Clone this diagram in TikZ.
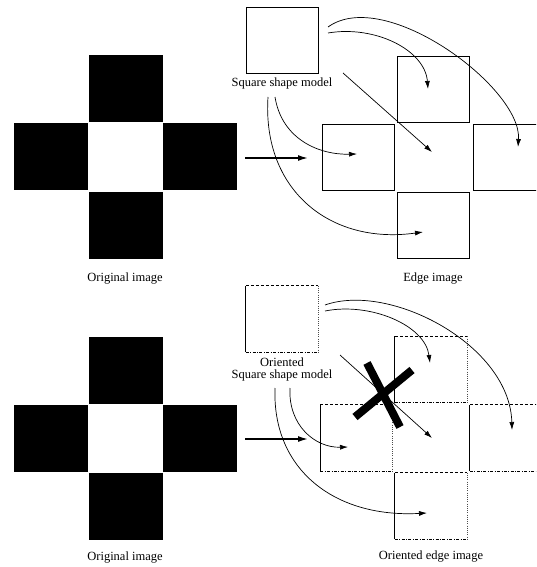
\documentclass[tikz,border=0pt]{standalone}
\usepackage{fontspec}
\setmainfont{Liberation Serif}
\usetikzlibrary{arrows.meta}
\begin{document}
\begin{tikzpicture}[x=1pt,y=-1pt,
  blk/.style={fill=black,draw=none,minimum width=74pt,minimum height=67pt,inner sep=0pt},
  sq/.style={draw=black,line width=0.85pt,minimum width=72pt,minimum height=66pt,inner sep=0pt},
  osq/.style={draw=none,minimum width=72pt,minimum height=66pt,inner sep=0pt},
  lbl/.style={font=\fontsize{12.5}{14}\selectfont,inner sep=0pt,align=center},
  curv/.style={line width=0.7pt,-{Latex[length=8pt,width=5pt]}},
  bigarr/.style={line width=1.5pt,-{Latex[length=10pt,width=6pt]}},
  otop/.style={line width=0.8pt,dash pattern=on 3pt off 2pt},
  oright/.style={line width=0.7pt,dash pattern=on 0.6pt off 1.6pt,draw=black!70},
  obot/.style={line width=0.75pt,dash pattern=on 3pt off 1.5pt on 0.8pt off 1.5pt},
  oleft/.style={line width=0.85pt},
  xbar/.style={line width=8pt}]
\clip (0,0) rectangle (536,567);
\fill[white] (0,0) rectangle (536,567);

% ---------- top half ----------
\node[blk] (ot) at (126,88.5) {};
\node[blk] (ol) at (51,156.5) {};
\node[blk] (or) at (200,156.5) {};
\node[blk] (ob) at (126,225) {};
\node[lbl] (olab) at (125,279) {Original image};

\coordinate (a1) at (245,158);
\coordinate (a2) at (308,158);
\draw[bigarr] (a1) -- (a2);

\node[sq] (m) at (282,40) {};
\node[lbl] (mlab) at (282,83) {Square shape model};

\node[sq] (et) at (433,89) {};
\node[sq] (el) at (358.5,157) {};
\node[sq] (er) at (509,157) {};
\node[sq] (eb) at (433,225) {};
\node[lbl] (elab) at (433,279) {Edge image};

\coordinate (s1) at (328,27);   \coordinate (e1) at (518,147);
\coordinate (s2) at (328,33);   \coordinate (e2) at (428,89);
\coordinate (s3) at (343,73);   \coordinate (e3) at (432,152);
\coordinate (s4) at (275,97);   \coordinate (e4) at (357,154);
\coordinate (s5) at (268,97);   \coordinate (e5) at (423,232);
\draw[curv] (s1) .. controls (385,-14) and (522,88) .. (e1);
\draw[curv] (s2) .. controls (375,25) and (425,50) .. (e2);
\draw[curv] (s3) -- (e3);
\draw[curv] (s4) .. controls (282,140) and (320,155) .. (e4);
\draw[curv] (s5) .. controls (262,190) and (330,245) .. (e5);

% ---------- bottom half ----------
\node[blk] (pt) at (126,370) {};
\node[blk] (pl) at (51,438) {};
\node[blk] (pr) at (200,438) {};
\node[blk] (pb) at (126,506.5) {};
\node[lbl] (plab) at (125,558) {Original image};

\coordinate (b1) at (245,439);
\coordinate (b2) at (308,439);
\draw[bigarr] (b1) -- (b2);

\node[osq] (n) at (282,319) {};
\node[lbl] (nlab) at (282,369.5) {Oriented\\[-1.5pt]Square shape model};

\node[osq] (ft) at (431,369.5) {};
\node[osq] (fl) at (356.5,438) {};
\node[osq] (fr) at (506,438) {};
\node[osq] (fb) at (431,506) {};
\node[lbl] (flab) at (431,557) {Oriented edge image};

\foreach \q in {n,ft,fl,fr,fb}{
  \draw[oright] (\q.north east) -- (\q.south east);
  \draw[otop] (\q.north west) -- (\q.north east);
  \draw[obot] (\q.south west) -- (\q.south east);
  \draw[oleft] (\q.south west) -- (\q.north west);
}

\coordinate (t1) at (325,305);  \coordinate (u1) at (512,430);
\coordinate (t2) at (325,311);  \coordinate (u2) at (430,363);
\coordinate (t3) at (340,355);  \coordinate (u3) at (432,438);
\coordinate (t4) at (290,388);  \coordinate (u4) at (348,447);
\coordinate (t5) at (275,388);  \coordinate (u5) at (427,513);
\draw[curv] (t1) .. controls (390,282) and (510,345) .. (u1);
\draw[curv] (t2) .. controls (370,302) and (425,325) .. (u2);
\draw[curv] (t3) -- (u3);
\draw[curv] (t4) .. controls (288,425) and (315,448) .. (u4);
\draw[curv] (t5) .. controls (272,470) and (335,518) .. (u5);

\coordinate (x1) at (367,363); \coordinate (x2) at (400,427);
\coordinate (x3) at (412,370); \coordinate (x4) at (355,417);
\draw[xbar] (x1) -- (x2);
\draw[xbar] (x3) -- (x4);
\end{tikzpicture}
\end{document}
